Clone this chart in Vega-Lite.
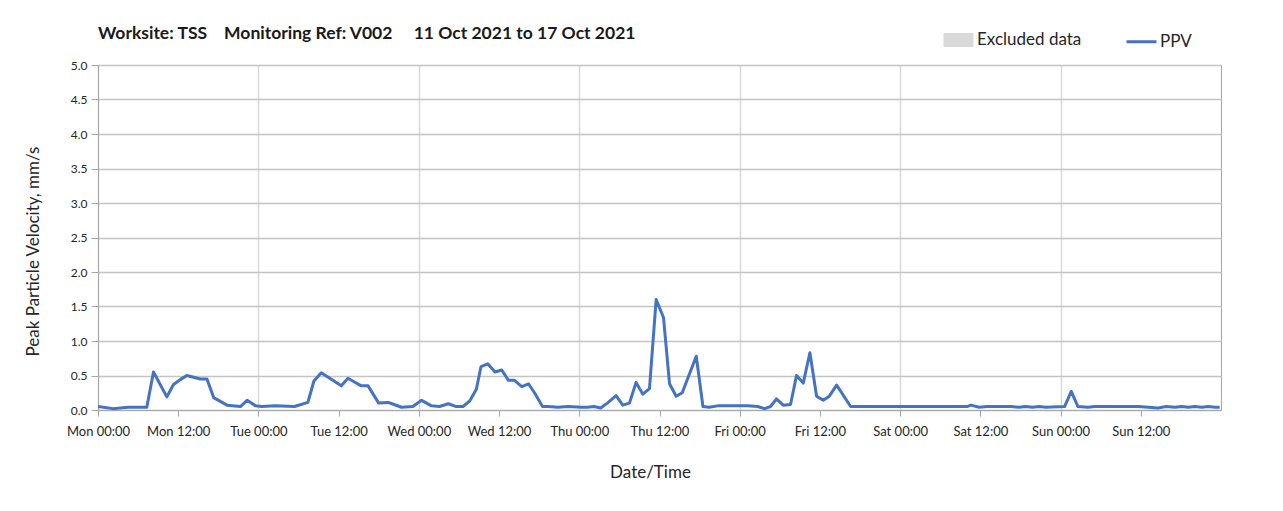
{
  "$schema": "https://vega.github.io/schema/vega-lite/v6.json",
  "autosize": {"type": "none"},
  "padding": {"left": 98, "top": 65, "right": 62, "bottom": 101},
  "width": 1123,
  "height": 345,
  "background": "white",
  "config": {
    "font": "Lato",
    "view": {"stroke": "#a6a6a6", "strokeWidth": 1}
  },
  "title": {
    "text": "Worksite: TSS\u00a0\u00a0\u00a0\u00a0Monitoring Ref: V002\u00a0\u00a0\u00a0\u00a0\u00a011 Oct 2021 to 17 Oct 2021",
    "anchor": "start",
    "frame": "group",
    "font": "Lato",
    "fontSize": 17.5,
    "fontWeight": "bold",
    "color": "#1a1a1a",
    "baseline": "alphabetic",
    "offset": 0,
    "dy": 33
  },
  "data": {
    "values": [
      {"t": "2021-10-11T00:00", "v": 0.05},
      {"t": "2021-10-11T02:18", "v": 0.02},
      {"t": "2021-10-11T04:30", "v": 0.04},
      {"t": "2021-10-11T07:18", "v": 0.04},
      {"t": "2021-10-11T08:18", "v": 0.55},
      {"t": "2021-10-11T10:18", "v": 0.19},
      {"t": "2021-10-11T11:18", "v": 0.37},
      {"t": "2021-10-11T12:18", "v": 0.44},
      {"t": "2021-10-11T13:18", "v": 0.50},
      {"t": "2021-10-11T15:18", "v": 0.45},
      {"t": "2021-10-11T16:18", "v": 0.45},
      {"t": "2021-10-11T17:18", "v": 0.18},
      {"t": "2021-10-11T19:18", "v": 0.07},
      {"t": "2021-10-11T21:18", "v": 0.05},
      {"t": "2021-10-11T22:18", "v": 0.14},
      {"t": "2021-10-11T23:36", "v": 0.06},
      {"t": "2021-10-12T00:30", "v": 0.05},
      {"t": "2021-10-12T02:30", "v": 0.06},
      {"t": "2021-10-12T05:24", "v": 0.05},
      {"t": "2021-10-12T07:24", "v": 0.11},
      {"t": "2021-10-12T08:18", "v": 0.42},
      {"t": "2021-10-12T09:24", "v": 0.54},
      {"t": "2021-10-12T12:24", "v": 0.35},
      {"t": "2021-10-12T13:24", "v": 0.46},
      {"t": "2021-10-12T14:18", "v": 0.41},
      {"t": "2021-10-12T15:24", "v": 0.35},
      {"t": "2021-10-12T16:24", "v": 0.35},
      {"t": "2021-10-12T18:00", "v": 0.10},
      {"t": "2021-10-12T19:24", "v": 0.11},
      {"t": "2021-10-12T20:18", "v": 0.08},
      {"t": "2021-10-12T21:24", "v": 0.04},
      {"t": "2021-10-12T23:06", "v": 0.05},
      {"t": "2021-10-13T00:24", "v": 0.14},
      {"t": "2021-10-13T01:54", "v": 0.06},
      {"t": "2021-10-13T03:06", "v": 0.05},
      {"t": "2021-10-13T04:24", "v": 0.09},
      {"t": "2021-10-13T05:36", "v": 0.05},
      {"t": "2021-10-13T06:36", "v": 0.05},
      {"t": "2021-10-13T07:36", "v": 0.13},
      {"t": "2021-10-13T08:36", "v": 0.30},
      {"t": "2021-10-13T09:18", "v": 0.63},
      {"t": "2021-10-13T10:18", "v": 0.67},
      {"t": "2021-10-13T11:24", "v": 0.55},
      {"t": "2021-10-13T12:24", "v": 0.58},
      {"t": "2021-10-13T13:24", "v": 0.43},
      {"t": "2021-10-13T14:18", "v": 0.43},
      {"t": "2021-10-13T15:24", "v": 0.34},
      {"t": "2021-10-13T16:24", "v": 0.38},
      {"t": "2021-10-13T17:18", "v": 0.25},
      {"t": "2021-10-13T18:30", "v": 0.05},
      {"t": "2021-10-13T19:18", "v": 0.05},
      {"t": "2021-10-13T20:48", "v": 0.04},
      {"t": "2021-10-13T22:18", "v": 0.05},
      {"t": "2021-10-14T00:18", "v": 0.04},
      {"t": "2021-10-14T01:12", "v": 0.04},
      {"t": "2021-10-14T02:12", "v": 0.05},
      {"t": "2021-10-14T03:12", "v": 0.03},
      {"t": "2021-10-14T04:12", "v": 0.10},
      {"t": "2021-10-14T05:30", "v": 0.21},
      {"t": "2021-10-14T06:30", "v": 0.07},
      {"t": "2021-10-14T07:30", "v": 0.10},
      {"t": "2021-10-14T08:30", "v": 0.40},
      {"t": "2021-10-14T09:30", "v": 0.23},
      {"t": "2021-10-14T10:30", "v": 0.31},
      {"t": "2021-10-14T11:30", "v": 1.60},
      {"t": "2021-10-14T12:36", "v": 1.34},
      {"t": "2021-10-14T13:30", "v": 0.38},
      {"t": "2021-10-14T14:30", "v": 0.20},
      {"t": "2021-10-14T15:24", "v": 0.25},
      {"t": "2021-10-14T17:30", "v": 0.78},
      {"t": "2021-10-14T18:30", "v": 0.05},
      {"t": "2021-10-14T19:24", "v": 0.04},
      {"t": "2021-10-14T20:42", "v": 0.06},
      {"t": "2021-10-14T22:42", "v": 0.06},
      {"t": "2021-10-15T01:12", "v": 0.06},
      {"t": "2021-10-15T02:42", "v": 0.05},
      {"t": "2021-10-15T03:42", "v": 0.02},
      {"t": "2021-10-15T04:36", "v": 0.05},
      {"t": "2021-10-15T05:30", "v": 0.16},
      {"t": "2021-10-15T06:30", "v": 0.07},
      {"t": "2021-10-15T07:36", "v": 0.08},
      {"t": "2021-10-15T08:30", "v": 0.50},
      {"t": "2021-10-15T09:30", "v": 0.39},
      {"t": "2021-10-15T10:30", "v": 0.83},
      {"t": "2021-10-15T11:30", "v": 0.20},
      {"t": "2021-10-15T12:30", "v": 0.14},
      {"t": "2021-10-15T13:24", "v": 0.20},
      {"t": "2021-10-15T14:30", "v": 0.36},
      {"t": "2021-10-15T16:36", "v": 0.05},
      {"t": "2021-10-16T10:00", "v": 0.05},
      {"t": "2021-10-16T10:36", "v": 0.07},
      {"t": "2021-10-16T11:48", "v": 0.04},
      {"t": "2021-10-16T13:00", "v": 0.05},
      {"t": "2021-10-16T16:36", "v": 0.05},
      {"t": "2021-10-16T17:48", "v": 0.04},
      {"t": "2021-10-16T18:48", "v": 0.05},
      {"t": "2021-10-16T19:48", "v": 0.04},
      {"t": "2021-10-16T20:48", "v": 0.05},
      {"t": "2021-10-16T21:48", "v": 0.04},
      {"t": "2021-10-17T00:36", "v": 0.05},
      {"t": "2021-10-17T01:36", "v": 0.27},
      {"t": "2021-10-17T02:36", "v": 0.05},
      {"t": "2021-10-17T04:06", "v": 0.04},
      {"t": "2021-10-17T05:06", "v": 0.05},
      {"t": "2021-10-17T11:36", "v": 0.05},
      {"t": "2021-10-17T13:06", "v": 0.04},
      {"t": "2021-10-17T14:36", "v": 0.03},
      {"t": "2021-10-17T15:48", "v": 0.05},
      {"t": "2021-10-17T17:06", "v": 0.04},
      {"t": "2021-10-17T18:06", "v": 0.05},
      {"t": "2021-10-17T19:06", "v": 0.04},
      {"t": "2021-10-17T20:06", "v": 0.05},
      {"t": "2021-10-17T21:06", "v": 0.04},
      {"t": "2021-10-17T22:06", "v": 0.05},
      {"t": "2021-10-17T23:06", "v": 0.04},
      {"t": "2021-10-17T23:48", "v": 0.04}
    ]
  },
  "mark": {"type": "line", "strokeWidth": 3, "strokeJoin": "round", "clip": true},
  "encoding": {
    "x": {
      "field": "t",
      "type": "temporal",
      "scale": {
        "domain": [
          {"year": 2021, "month": 10, "date": 11, "hours": 0},
          {"year": 2021, "month": 10, "date": 18, "hours": 0}
        ]
      },
      "axis": {
        "title": "Date/Time",
        "titleFont": "Lato",
        "titleFontSize": 17,
        "titleFontWeight": "normal",
        "titleColor": "#262626",
        "titleX": 552,
        "titleY": 62,
        "titleBaseline": "middle",
        "format": "%a %H:%M",
        "values": [
          {"year": 2021, "month": 10, "date": 11, "hours": 0},
          {"year": 2021, "month": 10, "date": 11, "hours": 12},
          {"year": 2021, "month": 10, "date": 12, "hours": 0},
          {"year": 2021, "month": 10, "date": 12, "hours": 12},
          {"year": 2021, "month": 10, "date": 13, "hours": 0},
          {"year": 2021, "month": 10, "date": 13, "hours": 12},
          {"year": 2021, "month": 10, "date": 14, "hours": 0},
          {"year": 2021, "month": 10, "date": 14, "hours": 12},
          {"year": 2021, "month": 10, "date": 15, "hours": 0},
          {"year": 2021, "month": 10, "date": 15, "hours": 12},
          {"year": 2021, "month": 10, "date": 16, "hours": 0},
          {"year": 2021, "month": 10, "date": 16, "hours": 12},
          {"year": 2021, "month": 10, "date": 17, "hours": 0},
          {"year": 2021, "month": 10, "date": 17, "hours": 12}
        ],
        "labelFont": "Lato",
        "labelFontSize": 13,
        "labelColor": "#262626",
        "labelPadding": 9,
        "labelFlush": false,
        "labelOverlap": false,
        "tickSize": 6,
        "tickColor": "#a6a6a6",
        "domainColor": "#a6a6a6",
        "grid": true,
        "gridColor": {
          "condition": {"test": "hours(datum.value) === 12", "value": "rgba(0,0,0,0)"},
          "value": "#d9d9d9"
        },
        "gridWidth": 1.5
      }
    },
    "y": {
      "field": "v",
      "type": "quantitative",
      "scale": {"domain": [0, 5], "nice": false},
      "axis": {
        "title": "Peak Particle Velocity, mm/s",
        "titleFont": "Lato",
        "titleFontSize": 17,
        "titleFontWeight": "normal",
        "titleColor": "#262626",
        "titleX": -56,
        "titleY": 186,
        "values": [0, 0.5, 1, 1.5, 2, 2.5, 3, 3.5, 4, 4.5, 5],
        "format": ".1f",
        "labelFont": "Lato",
        "labelFontSize": 12,
        "labelColor": "#262626",
        "labelPadding": 4,
        "tickSize": 7,
        "tickColor": "#a6a6a6",
        "domainColor": "#a6a6a6",
        "gridColor": "#c4c4c4",
        "gridWidth": 1.5
      }
    },
    "color": {
      "datum": "PPV",
      "type": "nominal",
      "scale": {"domain": ["Excluded data", "PPV"], "range": ["#d9d9d9", "#4472c4"]},
      "legend": {
        "title": null,
        "orient": "none",
        "legendX": 844,
        "legendY": -42,
        "direction": "horizontal",
        "symbolSize": 900,
        "labelFont": "Lato",
        "labelFontSize": 17,
        "labelColor": "#262626",
        "labelOffset": 2,
        "columnPadding": 38,
        "encode": {
          "symbols": {
            "update": {
              "shape": {"signal": "datum.value === 'PPV' ? 'stroke' : 'M-0.9,-0.37H0.9V0.37H-0.9Z'"},
              "fill": {"signal": "datum.value === 'PPV' ? 'transparent' : '#d9d9d9'"},
              "stroke": {"signal": "datum.value === 'PPV' ? '#4472c4' : 'transparent'"},
              "strokeWidth": {"value": 3},
              "opacity": {"value": 1}
            }
          }
        }
      }
    }
  }
}
